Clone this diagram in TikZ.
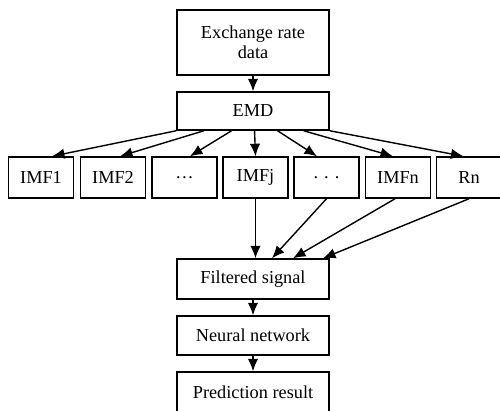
\documentclass[tikz,border=0pt]{standalone}
\usepackage{fontspec}
\setmainfont{Liberation Serif}
\usetikzlibrary{arrows.meta, positioning, calc}

\begin{document}
\begin{tikzpicture}[x=0.2mm, y=-0.2mm, >={Latex[length=2.5mm,width=2.1mm]},
	every node/.style={font=\fontsize{10.4}{11.5}\selectfont}]
			\tikzstyle{stage}=[rectangle, draw=black, line width=0.85pt, minimum width=30.4mm, align=center, inner sep=0pt]
			\tikzstyle{imf}=[rectangle, draw=black, line width=0.85pt, minimum width=13mm, minimum height=8.2mm, inner sep=0pt]
			\tikzstyle{link}=[line width=0.8pt, ->]
			\useasboundingbox (0,0) rectangle (500,410);
			%% main chain
			\node (data) at (253,42.5) [stage, minimum height=13mm] {Exchange rate\\data};
			\node (emd) at (253,111) [stage, minimum height=7.6mm] {EMD};
			%% components
			\node (imf1) at (41,177.5) [imf] {IMF1};
			\node (imf2) at (113,177.5) [imf] {IMF2};
			\node (dots1) at (184.5,177.5) [imf] {…};
			\node (imfj) at (255.5,177.5) [imf] {IMFj};
			\node (dots2) at (326.5,177.5) [imf] {.\,\,.\,\,.};
			\node (imfn) at (398,177.5) [imf] {IMFn};
			\node (rn) at (469,177.5) [imf] {Rn};
			%% back to one line
			\node (filt) at (253,279) [stage, minimum height=8mm] {Filtered signal};
			\node (nn) at (253,335.5) [stage, minimum height=7.8mm] {Neural network};
			\node (pred) at (253,392) [stage, minimum height=8mm] {Prediction result};

			\draw [link] (data) -- (emd);
			\draw [link] (emd.south west) -- ([xshift=2.2mm]imf1.north);
			\draw [link] ($(emd.south west)!0.18!(emd.south east)$) -- ([xshift=1.4mm]imf2.north);
			\draw [link] ($(emd.south west)!0.36!(emd.south east)$) -- ([xshift=1.1mm]dots1.north);
			\draw [link] ($(emd.south west)!0.51!(emd.south east)$) -- (imfj.north);
			\draw [link] ($(emd.south west)!0.66!(emd.south east)$) -- ([xshift=-1.9mm]dots2.north);
			\draw [link] ($(emd.south west)!0.83!(emd.south east)$) -- ([xshift=-1mm]imfn.north);
			\draw [link] (emd.south east) -- ([xshift=-1.1mm]rn.north);

			\draw [link] (imfj.south) -- (imfj.south |- filt.north);
			\draw [link] (dots2.south) -- ([xshift=3.8mm]filt.north);
			\draw [link] ([xshift=-0.6mm]imfn.south) -- ([xshift=8mm]filt.north);
			\draw [link] (rn.south) -- ([xshift=14mm]filt.north);
			\draw [link] (filt) -- (nn);
			\draw [link] (nn) -- (pred);
\end{tikzpicture}
\end{document}
